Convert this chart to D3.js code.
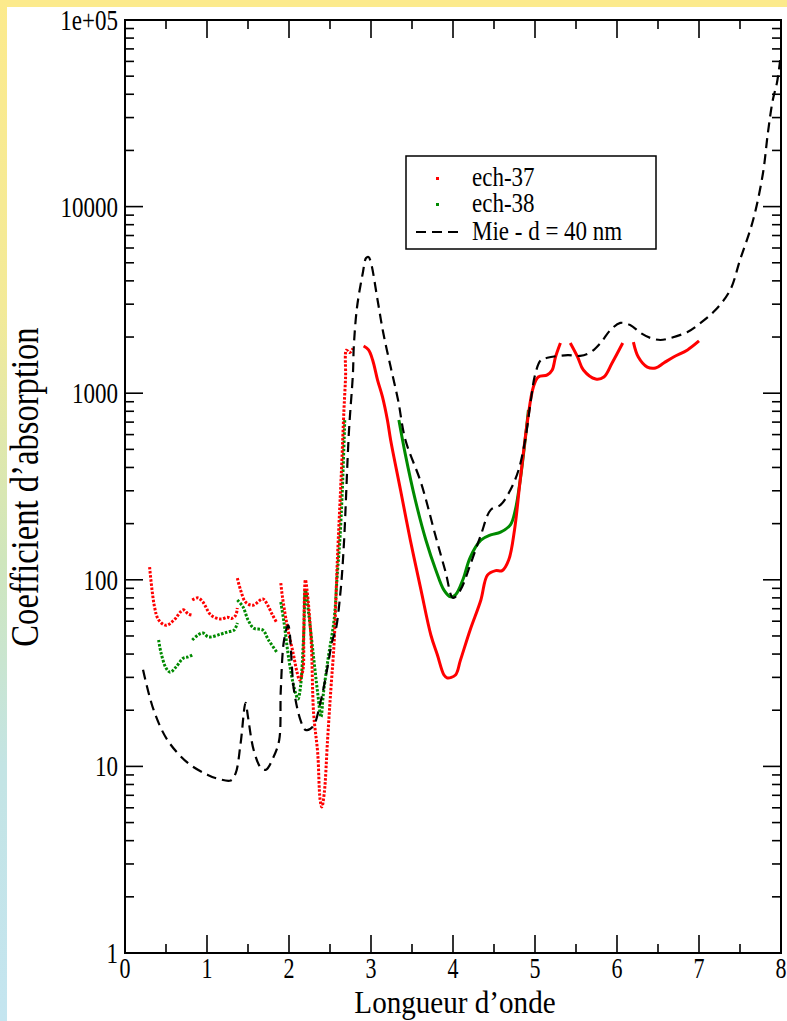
<!DOCTYPE html>
<html>
<head>
<meta charset="utf-8">
<script src="https://cdn.jsdelivr.net/npm/d3@7"></script>
<style>
  body { margin: 0; background: #fff; }
  svg { display: block; }
  text { font-family: "Times New Roman", Times, "Liberation Serif", "DejaVu Serif", serif; fill: #000; }
</style>
</head>
<body>
<svg id="chart" width="787" height="1021"></svg>
<script>
// wavelength ticks and decades
const xTicks = [0, 1, 2, 3, 4, 5, 6, 7, 8]
const yTicks = [1, 10, 100, 1000, 10000, 100000]
const yLabels = ['1', '10', '100', '1000', '10000', '1e+05']

// Mie - d = 40 nm (dashed)
const mie = [
  [0.22, 33], [0.35, 20], [0.52, 13.8], [0.77, 10.4], [1.01, 9.0], [1.13, 8.6],
  [1.29, 8.4], [1.35, 9.2], [1.41, 13.3], [1.47, 21.9], [1.50, 18.4], [1.57, 12.2],
  [1.66, 9.8], [1.72, 9.6], [1.81, 11.2], [1.88, 13.8], [1.90, 25.7], [1.94, 47.6],
  [1.99, 57], [2.06, 25.7], [2.14, 17.7], [2.20, 15.7], [2.29, 16.3], [2.39, 22.7],
  [2.47, 34.1], [2.53, 47.6], [2.57, 53.8], [2.63, 88], [2.67, 157], [2.73, 612],
  [2.78, 1283], [2.79, 1770], [2.83, 2897], [2.90, 4406], [2.94, 5300], [2.97, 5370],
  [3.00, 4990], [3.08, 3160], [3.15, 2100], [3.24, 1380], [3.33, 920], [3.42, 561],
  [3.61, 331], [3.79, 170], [3.91, 110], [4.00, 80], [4.09, 88], [4.21, 120],
  [4.34, 174], [4.46, 237], [4.58, 252], [4.70, 303], [4.80, 388], [4.88, 561],
  [4.95, 920], [5.00, 1250], [5.07, 1500], [5.15, 1548], [5.40, 1600], [5.55, 1585],
  [5.68, 1660], [5.80, 1860], [5.92, 2180], [6.04, 2380], [6.16, 2320], [6.29, 2100],
  [6.41, 1975], [6.53, 1928], [6.65, 1975], [6.86, 2130], [7.02, 2380], [7.20, 2790],
  [7.38, 3570], [7.50, 5170], [7.66, 8480], [7.78, 15100], [7.84, 24800], [7.90, 37300],
  [7.95, 45900], [7.99, 61000]
]

// ech-37 (red), one array per unbroken run
const ech37a = [[0.30, 117], [0.36, 71.5], [0.41, 61], [0.50, 57], [0.60, 61], [0.71, 69], [0.77, 65.6], [0.82, 64.6]]
const ech37b = [[0.82, 78], [0.89, 80], [0.95, 76], [1.05, 64.6], [1.17, 61.7], [1.25, 63], [1.30, 62], [1.35, 64.6], [1.37, 70.6]]
const ech37c = [[1.37, 102], [1.41, 88], [1.47, 76], [1.56, 73], [1.68, 79], [1.74, 73], [1.80, 64.6], [1.85, 59]]
const ech37d = [
  [1.90, 96], [1.92, 81], [1.98, 56], [2.05, 40.5], [2.10, 31.7], [2.13, 29], [2.17, 32.9],
  [2.18, 54], [2.20, 100], [2.22, 88], [2.27, 47.6], [2.30, 19.3], [2.35, 11.8], [2.38, 6.6],
  [2.40, 6.06], [2.43, 7.2], [2.47, 13.8], [2.51, 25.7], [2.55, 45.9], [2.59, 128],
  [2.64, 388], [2.67, 813], [2.69, 1221], [2.70, 1700], [2.74, 1650], [2.78, 1740]
]
const ech37e = [
  [2.91, 1790], [2.97, 1706], [3.02, 1507], [3.08, 1176], [3.14, 955], [3.20, 718], [3.24, 560],
  [3.36, 303], [3.48, 163], [3.61, 88], [3.73, 50.6], [3.81, 39.5], [3.89, 30.9], [3.93, 29.8],
  [4.03, 30.9], [4.09, 37], [4.21, 54], [4.34, 78], [4.42, 106], [4.52, 112], [4.60, 112],
  [4.68, 128], [4.75, 185], [4.82, 343], [4.91, 718], [4.98, 1080], [5.04, 1221], [5.15, 1253],
  [5.21, 1331], [5.25, 1563], [5.31, 1858]
]
const ech37f = [[5.43, 1858], [5.52, 1563], [5.59, 1331], [5.74, 1192], [5.84, 1221], [5.94, 1452], [6.07, 1858]]
const ech37g = [[6.20, 1880], [6.26, 1563], [6.37, 1380], [6.47, 1365], [6.57, 1452], [6.69, 1563], [6.86, 1706], [7.00, 1905]]

// ech-38 (green)
const ech38a = [[0.41, 47.6], [0.44, 40.5], [0.50, 33.7], [0.55, 32], [0.62, 34], [0.71, 38], [0.77, 38.6], [0.82, 39.5]]
const ech38b = [[0.82, 47.6], [0.89, 50.6], [0.95, 51.9], [1.02, 49.4], [1.17, 51.2], [1.25, 52.5], [1.33, 53.8], [1.37, 58.7]]
const ech38c = [[1.37, 78], [1.44, 71.5], [1.50, 61], [1.57, 55], [1.68, 53.8], [1.75, 47.6], [1.85, 41]]
const ech38d = [
  [1.90, 76], [1.94, 58.7], [2.00, 37], [2.06, 26.7], [2.11, 23], [2.14, 26.7], [2.18, 51.9],
  [2.20, 88], [2.24, 66], [2.29, 42], [2.35, 24.7], [2.39, 18.4], [2.42, 24.7], [2.48, 38.6],
  [2.55, 61], [2.59, 109], [2.62, 163], [2.65, 300], [2.68, 718]
]
const ech38e = [
  [3.34, 718], [3.42, 467], [3.54, 268], [3.67, 163], [3.79, 113], [3.89, 88], [3.97, 81],
  [4.03, 83], [4.12, 100], [4.21, 132], [4.34, 163], [4.46, 174], [4.58, 180], [4.70, 197],
  [4.76, 237], [4.82, 343], [4.88, 561], [4.92, 813]
]

const redRuns = [ech37a, ech37b, ech37c, ech37d, ech37e, ech37f, ech37g]
const greenRuns = [ech38a, ech38b, ech38c, ech38d, ech38e]
const legendNames = ['ech-37', 'ech-38', 'Mie - d = 40 nm']

const red = '#ff0000', green = '#008a00'
const svg = d3.select('#chart')

// gradient frame on the top and left edges
const defs = svg.append('defs')
const lg = defs.append('linearGradient').attr('id', 'side')
  .attr('x1', 0).attr('y1', 0).attr('x2', 0).attr('y2', 1)
lg.selectAll('stop')
  .data([[0, '#fcea8c'], [0.3, '#f3ea98'], [0.55, '#cfe6bd'], [0.75, '#c3e4e4'], [1, '#c4e5f0']])
  .enter().append('stop')
  .attr('offset', d => d[0]).attr('stop-color', d => d[1])
svg.append('rect').attr('x', 0).attr('y', 0).attr('width', 787).attr('height', 7).attr('fill', '#fcea8c')
svg.append('rect').attr('x', 0).attr('y', 0).attr('width', 7).attr('height', 1021).attr('fill', 'url(#side)')

const x = d3.scaleLinear().domain([0, 8]).range([125, 781])
const y = d3.scaleLog().domain([1, 1e5]).range([953, 20])

const minorX = d3.range(0.5, 8, 1)
const minorY = []
for (let e = 0; e < 5; e++) for (let m = 2; m <= 9; m++) minorY.push(m * Math.pow(10, e))

const axes = svg.append('g').attr('stroke', '#000').attr('stroke-width', 1.6)

// x ticks, bottom and top, pointing inward
axes.selectAll('.xmaj').data(xTicks).enter().append('line')
  .attr('x1', d => x(d)).attr('x2', d => x(d)).attr('y1', 953).attr('y2', 935)
axes.selectAll('.xmin').data(minorX).enter().append('line')
  .attr('x1', d => x(d)).attr('x2', d => x(d)).attr('y1', 953).attr('y2', 944)
axes.selectAll('.xmajt').data(xTicks).enter().append('line')
  .attr('x1', d => x(d)).attr('x2', d => x(d)).attr('y1', 20).attr('y2', 38)
axes.selectAll('.xmint').data(minorX).enter().append('line')
  .attr('x1', d => x(d)).attr('x2', d => x(d)).attr('y1', 20).attr('y2', 29)

// y ticks, left and right
axes.selectAll('.ymaj').data(yTicks).enter().append('line')
  .attr('y1', d => y(d)).attr('y2', d => y(d)).attr('x1', 125).attr('x2', 143)
axes.selectAll('.ymin').data(minorY).enter().append('line')
  .attr('y1', d => y(d)).attr('y2', d => y(d)).attr('x1', 125).attr('x2', 134)
axes.selectAll('.ymajr').data(yTicks).enter().append('line')
  .attr('y1', d => y(d)).attr('y2', d => y(d)).attr('x1', 781).attr('x2', 763)
axes.selectAll('.yminr').data(minorY).enter().append('line')
  .attr('y1', d => y(d)).attr('y2', d => y(d)).attr('x1', 781).attr('x2', 772)

svg.append('rect')
  .attr('x', 125).attr('y', 20).attr('width', 656).attr('height', 933)
  .attr('fill', 'none').attr('stroke', '#000').attr('stroke-width', 2)

// the original lettering is tall and narrow: stretch it vertically
svg.selectAll('.xl').data(xTicks).enter().append('text')
  .attr('transform', d => `translate(${x(d)},978) scale(1,1.3)`)
  .attr('text-anchor', 'middle').style('font-size', '22px')
  .text(d => d)
svg.selectAll('.yl').data(yTicks).enter().append('text')
  .attr('transform', d => `translate(118,${y(d) + 10}) scale(1,1.3)`)
  .attr('text-anchor', 'end').style('font-size', '23px')
  .text((d, i) => yLabels[i])

svg.append('text')
  .attr('transform', 'translate(455,1013) scale(1.04,1.12)')
  .attr('text-anchor', 'middle').style('font-size', '28px')
  .text('Longueur d\u2019onde')
svg.append('text')
  .attr('transform', 'translate(38,487) rotate(-90) scale(1.02,1.25)')
  .attr('text-anchor', 'middle').style('font-size', '32px')
  .text('Coefficient d\u2019absorption')

const line = d3.line().x(d => x(d[0])).y(d => y(d[1])).curve(d3.curveCatmullRom)

const plot = svg.append('g')

// sparse sampling on the left reads as dots, dense runs read as solid
function drawRuns(runs, color) {
  plot.selectAll(null).data(runs).enter().append('path')
    .attr('d', line)
    .attr('fill', 'none')
    .attr('stroke', color)
    .attr('stroke-width', 3)
    .attr('stroke-dasharray', d => d[0][0] < 2.8 ? '2.5,1.6' : null)
}
drawRuns(greenRuns, green)
drawRuns(redRuns, red)

plot.append('path').datum(mie)
  .attr('d', line)
  .attr('fill', 'none')
  .attr('stroke', '#000')
  .attr('stroke-width', 2.2)
  .attr('stroke-dasharray', '10,6')

// legend
const lgd = svg.append('g')
lgd.append('rect').attr('x', 406).attr('y', 156).attr('width', 250).attr('height', 93)
  .attr('fill', '#fff').attr('stroke', '#000').attr('stroke-width', 1.5)
const rows = [178, 204, 232]
lgd.selectAll('.lt').data(legendNames).enter().append('text')
  .attr('transform', (d, i) => `translate(472,${rows[i] + 8}) scale(1,1.15)`)
  .style('font-size', '23px').text(d => d)
lgd.append('rect').attr('x', 436).attr('y', rows[0] - 1).attr('width', 3).attr('height', 3).attr('fill', red)
lgd.append('rect').attr('x', 436).attr('y', rows[1] - 1).attr('width', 3).attr('height', 3).attr('fill', green)
lgd.append('line').attr('x1', 416).attr('x2', 460).attr('y1', rows[2]).attr('y2', rows[2])
  .attr('stroke', '#000').attr('stroke-width', 2.2).attr('stroke-dasharray', '10,6')
</script>
</body>
</html>
